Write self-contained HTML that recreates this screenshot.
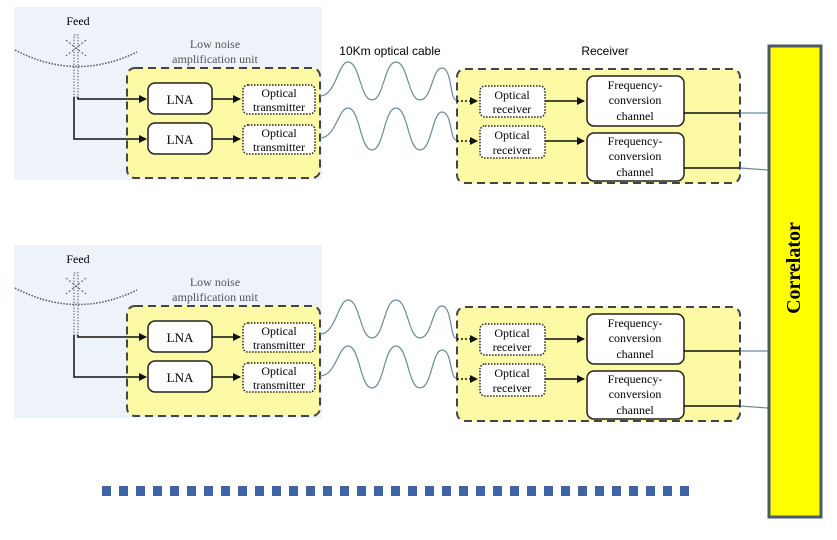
<!DOCTYPE html>
<html><head><style>body{margin:0;background:#fff}svg{display:block}</style></head><body>
<svg width="837" height="540" viewBox="0 0 837 540" xmlns="http://www.w3.org/2000/svg" font-family="Liberation Serif, serif">
<defs>
<marker id="ar" markerWidth="8" markerHeight="8" refX="7" refY="4" orient="auto" markerUnits="userSpaceOnUse"><path d="M0,0 L8,4 L0,8z" fill="#111"/></marker>
<g id="unit">
<rect x="14" y="7" width="308" height="173" fill="#eef2f9"/>
<text x="78" y="25" font-size="12" text-anchor="middle">Feed</text>
<path d="M15,50 Q76,82 137,52" fill="none" stroke="#555" stroke-width="1.5" stroke-dasharray="1.5,1.5"/>
<path d="M66,40 L86,56 M86,40 L66,56" stroke="#555" stroke-dasharray="2,2"/>
<rect x="74" y="35" width="4" height="62" fill="none" stroke="#555" stroke-dasharray="1.5,1.5"/>
<text x="215" y="48" font-size="12" fill="#555" text-anchor="middle">Low noise</text>
<text x="215" y="63" font-size="12" fill="#555" text-anchor="middle">amplification unit</text>
<rect x="127" y="68" width="193" height="110" rx="8" fill="#fdfaa5" stroke="#444" stroke-width="2" stroke-dasharray="8,5"/>
<path d="M78,97 V99 H146" fill="none" stroke="#111" stroke-width="1.5" marker-end="url(#ar)"/>
<path d="M74,97 V139 H146" fill="none" stroke="#111" stroke-width="1.5" marker-end="url(#ar)"/>
<rect x="148" y="83" width="64" height="31" rx="7" fill="#fff" stroke="#222" stroke-width="1.5"/>
<rect x="148" y="123" width="64" height="31" rx="7" fill="#fff" stroke="#222" stroke-width="1.5"/>
<text x="180" y="104" font-size="13" text-anchor="middle">LNA</text>
<text x="180" y="144" font-size="13" text-anchor="middle">LNA</text>
<path d="M212,99 H240" stroke="#111" stroke-width="1.5" marker-end="url(#ar)"/>
<path d="M212,139 H240" stroke="#111" stroke-width="1.5" marker-end="url(#ar)"/>
<rect x="243" y="85" width="72" height="29" rx="5" fill="#fff" stroke="#222" stroke-width="1.5" stroke-dasharray="1.5,1.5"/>
<rect x="243" y="125" width="72" height="29" rx="5" fill="#fff" stroke="#222" stroke-width="1.5" stroke-dasharray="1.5,1.5"/>
<text x="279" y="97" font-size="12" text-anchor="middle">Optical</text>
<text x="279" y="111" font-size="12" text-anchor="middle">transmitter</text>
<text x="279" y="137" font-size="12" text-anchor="middle">Optical</text>
<text x="279" y="151" font-size="12" text-anchor="middle">transmitter</text>
<path d="M320,96 C336,96 338,62 348,62 C360,62 360,100 372,100 C384,100 384,62 396,62 C408,62 408,100 420,100 C432,100 432,68 442,68 C452,68 450,100 456,100" fill="none" stroke="#6b8a99" stroke-width="1.2"/>
<path d="M320,138 C336,138 338,108 348,108 C360,108 360,150 372,150 C384,150 384,108 396,108 C408,108 408,150 420,150 C432,150 432,112 442,112 C452,112 450,140 456,140" fill="none" stroke="#6b8a99" stroke-width="1.2"/>
<rect x="457" y="69" width="283" height="114" rx="8" fill="#fdfaa5" stroke="#444" stroke-width="2" stroke-dasharray="8,5"/>
<path d="M457,101 H477" stroke="#111" stroke-width="1.5" stroke-dasharray="2,2" marker-end="url(#ar)"/>
<path d="M457,141 H477" stroke="#111" stroke-width="1.5" stroke-dasharray="2,2" marker-end="url(#ar)"/>
<rect x="480" y="86" width="65" height="31" rx="5" fill="#fff" stroke="#222" stroke-width="1.5" stroke-dasharray="1.5,1.5"/>
<rect x="480" y="126" width="65" height="32" rx="5" fill="#fff" stroke="#222" stroke-width="1.5" stroke-dasharray="1.5,1.5"/>
<text x="512" y="99" font-size="12" text-anchor="middle">Optical</text>
<text x="512" y="113" font-size="12" text-anchor="middle">receiver</text>
<text x="512" y="139" font-size="12" text-anchor="middle">Optical</text>
<text x="512" y="154" font-size="12" text-anchor="middle">receiver</text>
<path d="M545,101 H584" stroke="#111" stroke-width="1.5" marker-end="url(#ar)"/>
<path d="M545,141 H584" stroke="#111" stroke-width="1.5" marker-end="url(#ar)"/>
<rect x="587" y="76" width="97" height="50" rx="7" fill="#fff" stroke="#222" stroke-width="1.5"/>
<rect x="587" y="133" width="97" height="48" rx="7" fill="#fff" stroke="#222" stroke-width="1.5"/>
<text x="635" y="89" font-size="12" text-anchor="middle">Frequency-</text>
<text x="635" y="104" font-size="12" text-anchor="middle">conversion</text>
<text x="635" y="120" font-size="12" text-anchor="middle">channel</text>
<text x="635" y="145" font-size="12" text-anchor="middle">Frequency-</text>
<text x="635" y="160" font-size="12" text-anchor="middle">conversion</text>
<text x="635" y="176" font-size="12" text-anchor="middle">channel</text>
<path d="M684,113 H740" stroke="#111" stroke-width="1.5"/>
<path d="M684,168 H740" stroke="#111" stroke-width="1.5"/>
<path d="M740,113 H768 M740,168 L768,170" stroke="#6b8a99" stroke-width="1.2"/>
</g>
</defs>
<use href="#unit"/>
<use href="#unit" transform="translate(0,238)"/>
<text x="390" y="55" font-size="12" font-family="Liberation Sans, sans-serif" text-anchor="middle">10Km optical cable</text>
<text x="605" y="55" font-size="12" font-family="Liberation Sans, sans-serif" text-anchor="middle">Receiver</text>
<rect x="769" y="46" width="52" height="471" fill="#ffff00" stroke="#4a5a66" stroke-width="3"/>
<text transform="translate(800,268) rotate(-90)" font-size="20" font-weight="bold" text-anchor="middle">Correlator</text>
<path d="M102,491 H696" stroke="#3e64a8" stroke-width="10" stroke-dasharray="9,8"/>
</svg>
</body></html>
